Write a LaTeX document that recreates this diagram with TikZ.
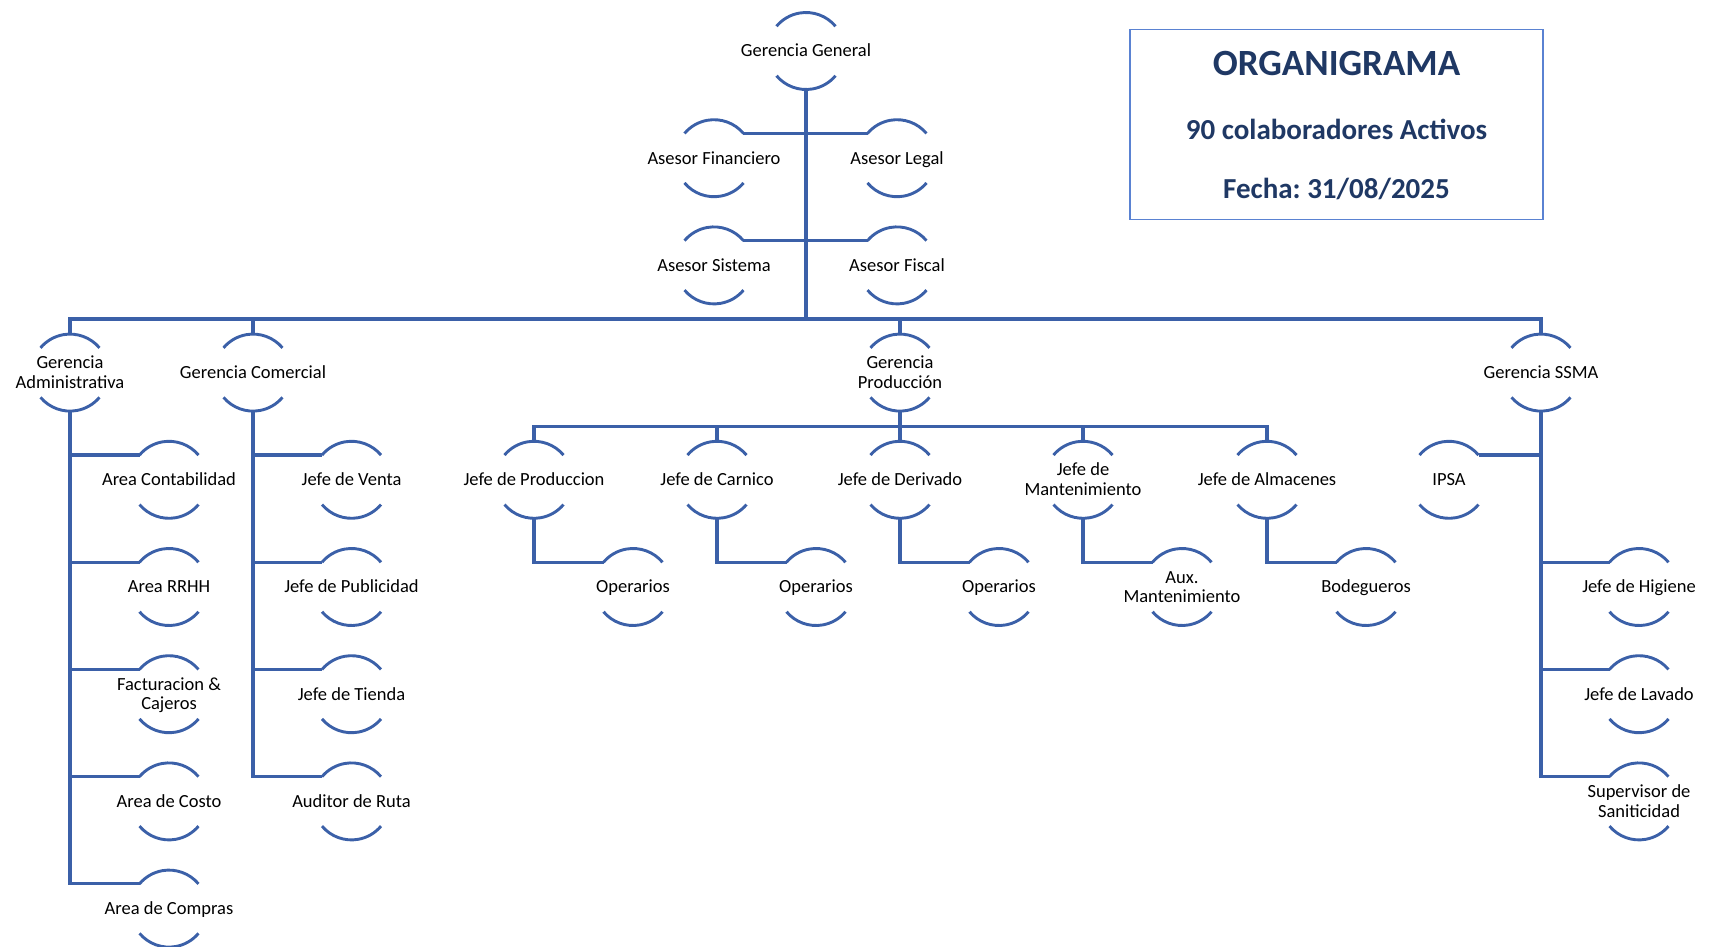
\documentclass[tikz,border=0pt]{standalone}
\usepackage{fontspec}
\setmainfont{Carlito}
\frenchspacing
\definecolor{lineblue}{RGB}{59,96,168}
\definecolor{boxblue}{RGB}{90,130,210}
\definecolor{titleblue}{RGB}{31,56,100}
\newcommand{\nt}[1]{\makebox[0pt]{\raisebox{-2pt}[\height][\depth]{\begin{tabular}{@{}c@{}}#1\end{tabular}}}}
\tikzset{
  org/.style={circle,minimum size=77pt,inner sep=0pt,outer sep=0pt,
    font=\fontsize{18.5}{19.5}\selectfont,text=black},
  arcst/.style={draw=lineblue,line width=2.9pt},
  conn/.style={draw=lineblue,line width=3.2pt},
  title/.style={font=\bfseries\fontsize{#1}{#1}\selectfont,text=titleblue}
}
\begin{document}
\begin{tikzpicture}[x=1pt,y=-1pt]
\useasboundingbox (0,0) rectangle (1717,947);
% rows: 51 + 107.2 k
\node[org] (gg) at (806,51) {\nt{Gerencia General}};
\node[org] (af) at (714,158.2) {\nt{Asesor Financiero}};
\node[org] (al) at (897,158.2) {\nt{Asesor Legal}};
\node[org] (as) at (714,265.4) {\nt{Asesor Sistema}};
\node[org] (afi) at (897,265.4) {\nt{Asesor Fiscal}};
\node[org] (ga) at (70,372.6) {\nt{Gerencia\\Administrativa}};
\node[org] (gc) at (253,372.6) {\nt{Gerencia Comercial}};
\node[org] (gp) at (900,372.6) {\nt{Gerencia\\Producción}};
\node[org] (gs) at (1541,372.6) {\nt{Gerencia SSMA}};
% Administrativa
\node[org] (a1) at (169,479.8) {\nt{Area Contabilidad}};
\node[org] (a2) at (169,587) {\nt{Area RRHH}};
\node[org] (a3) at (169,694.2) {\nt{Facturacion \&\\Cajeros}};
\node[org] (a4) at (169,801.4) {\nt{Area de Costo}};
\node[org] (a5) at (169,908.6) {\nt{Area de Compras}};
% Comercial
\node[org] (c1) at (351.5,479.8) {\nt{Jefe de Venta}};
\node[org] (c2) at (351.5,587) {\nt{Jefe de Publicidad}};
\node[org] (c3) at (351.5,694.2) {\nt{Jefe de Tienda}};
\node[org] (c4) at (351.5,801.4) {\nt{Auditor de Ruta}};
% Produccion
\node[org] (p1) at (534,479.8) {\nt{Jefe de Produccion}};
\node[org] (p2) at (717,479.8) {\nt{Jefe de Carnico}};
\node[org] (p3) at (900,479.8) {\nt{Jefe de Derivado}};
\node[org] (p4) at (1083,479.8) {\nt{Jefe de\\Mantenimiento}};
\node[org] (p5) at (1267,479.8) {\nt{Jefe de Almacenes}};
\node[org] (o1) at (633,587) {\nt{Operarios}};
\node[org] (o2) at (816,587) {\nt{Operarios}};
\node[org] (o3) at (999,587) {\nt{Operarios}};
\node[org] (o4) at (1182,587) {\nt{Aux.\\Mantenimiento}};
\node[org] (o5) at (1366,587) {\nt{Bodegueros}};
% SSMA
\node[org] (ip) at (1449,479.8) {\nt{IPSA}};
\node[org] (s1) at (1639,587) {\nt{Jefe de Higiene}};
\node[org] (s2) at (1639,694.2) {\nt{Jefe de Lavado}};
\node[org] (s3) at (1639,801.4) {\nt{Supervisor de\\Saniticidad}};
% arcs
\foreach \n in {gg,af,al,as,afi,ga,gc,gp,gs,a1,a2,a3,a4,a5,c1,c2,c3,c4,p1,p2,p3,p4,p5,o1,o2,o3,o4,o5,ip,s1,s2,s3}{
  \draw[arcst] (\n.40) arc[start angle=40,end angle=140,radius=38.5pt];
  \draw[arcst] (\n.220) arc[start angle=220,end angle=320,radius=38.5pt];
}
% connectors
\coordinate (bar) at (806,319);
\coordinate (pbar) at (900,426.5);
\draw[conn] (gg.south) -- (gg.south |- bar);
\draw[conn] (af.40) -- (af.40 -| gg.south);
\draw[conn] (al.140) -- (al.140 -| gg.south);
\draw[conn] (as.40) -- (as.40 -| gg.south);
\draw[conn] (afi.140) -- (afi.140 -| gg.south);
\draw[conn] (ga.north) -- (ga.north |- bar) -- (gs.north |- bar) -- (gs.north);
\draw[conn] (gc.north) -- (gc.north |- bar);
\draw[conn] (gp.north) -- (gp.north |- bar);
% Administrativa
\draw[conn] (ga.south) |- (a5.140);
\foreach \n in {a1,a2,a3,a4}{\draw[conn] (\n.140) -- (\n.140 -| ga.south);}
% Comercial
\draw[conn] (gc.south) |- (c4.140);
\foreach \n in {c1,c2,c3}{\draw[conn] (\n.140) -- (\n.140 -| gc.south);}
% Produccion
\draw[conn] (gp.south) -- (pbar);
\draw[conn] (p1.north) -- (p1.north |- pbar) -- (p5.north |- pbar) -- (p5.north);
\foreach \n in {p2,p3,p4}{\draw[conn] (\n.north) -- (\n.north |- pbar);}
\draw[conn] (p1.south) |- (o1.140);
\draw[conn] (p2.south) |- (o2.140);
\draw[conn] (p3.south) |- (o3.140);
\draw[conn] (p4.south) |- (o4.140);
\draw[conn] (p5.south) |- (o5.140);
% SSMA
\draw[conn] (gs.south) |- (s3.140);
\draw[conn] (ip.40) -- (ip.40 -| gs.south);
\foreach \n in {s1,s2}{\draw[conn] (\n.140) -- (\n.140 -| gs.south);}
% title box
\node[draw=boxblue,line width=1.2pt,minimum width=413pt,minimum height=190pt,inner sep=0pt] (box) at (1336.5,124.5) {};
\node[title=37] (t1) at (1336.5,63.5) {ORGANIGRAMA};
\node[title=29] (t2) at (1336.5,129) {90 colaboradores Activos};
\node[title=29] (t3) at (1336.5,189) {Fecha: 31/08/2025};
\end{tikzpicture}
\end{document}
